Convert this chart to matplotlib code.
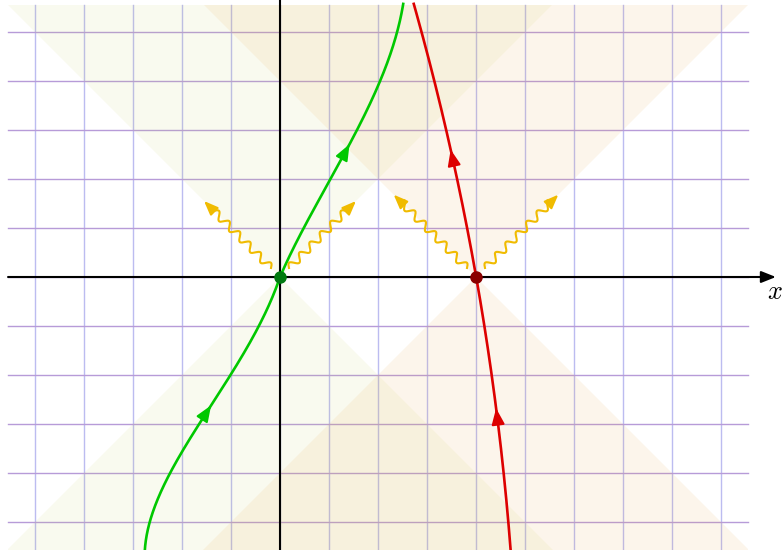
import numpy as np
import matplotlib
matplotlib.use("Agg")
import matplotlib.pyplot as plt
from matplotlib.patches import Polygon, Rectangle

plt.rcParams['mathtext.fontset'] = 'cm'

# ---- data (spacetime units) ----
event_x = [0.0, 4.0]                     # events on the x axis
event_colors = ["#007a10", "#8a0000"]
photon_len = [1.55, 1.68]                # reach of emitted photons (per event)
cone_colors = [(198/255, 210/255, 100/255), (235/255, 165/255, 65/255)]

# green worldline (past half and future half)
green_past_y = [0.0, -0.50, -1.00, -2.10, -2.67, -2.98, -3.49, -4.00, -4.55, -5.02, -5.60]
green_past_x = [0.0, -0.21, -0.45, -1.02, -1.43, -1.67, -1.98, -2.24, -2.49, -2.65, -2.77]
green_fut_y = [0.0, 1.00, 2.00, 2.71, 3.10, 4.02, 5.00, 5.60]
green_fut_x = [0.0, 0.50, 1.00, 1.43, 1.64, 2.04, 2.39, 2.52]
# red worldline
red_y = [-5.60, -5.00, -4.00, -3.02, -2.00, -1.01, 0.0, 0.99, 1.98, 2.80, 3.75, 4.63, 5.60]
red_x = [4.69, 4.66, 4.59, 4.49, 4.29, 4.15, 4.0, 3.81, 3.63, 3.44, 3.23, 2.99, 2.71]
green_arrow_y = [-2.62, 2.71]
red_arrow_y = [-2.68, 2.60]

grid_x = list(range(-5, 10))
grid_y = list(range(-5, 6))
xmin, xmax, ymin, ymax = -5.55, 9.55, -5.60, 5.55

# ---- figure ----
fig = plt.figure(figsize=(7.84, 5.50), dpi=100)
ax = fig.add_axes([0, 0, 1, 1])
ax.set_xlim(-280/49, 504/49)
ax.set_ylim(-273/49, 277/49)
ax.axis('off')

# grid
for gx in grid_x:
    ax.plot([gx, gx], [-6, ymax], color="#bcbcf0", lw=1.0, zorder=1)
for gy in grid_y:
    ax.plot([xmin, xmax], [gy, gy], color="#b79bd8", lw=1.0, zorder=1)

# light cones
clip = Rectangle((xmin, ymin), xmax - xmin, ymax - ymin, transform=ax.transData)
H = 20
for ex, c in zip(event_x, cone_colors):
    for s in (1, -1):
        p = Polygon([(ex, 0), (ex - H, s * H), (ex + H, s * H)], closed=True,
                    facecolor=c, alpha=0.1, edgecolor='none', zorder=2)
        ax.add_patch(p)
        p.set_clip_path(clip)

# axes
ax.plot([0, 0], [-6, 6], color="black", lw=1.5, zorder=3)
ax.annotate('', xy=(10.12, 0), xytext=(xmin, 0),
            arrowprops=dict(arrowstyle='-|>,head_length=0.55,head_width=0.22',
                            mutation_scale=16, color='black', lw=1.5,
                            shrinkA=0, shrinkB=0), zorder=3)
ax.text(10.1, -0.31, r'$x$', fontsize=19, ha='center', va='center', zorder=3)


def smooth_fit(ys, xs, x0=None, y0=0.0, deg=4, n=300):
    """least-squares polynomial x(y) through the read points (for a smooth stroke)"""
    ys = np.asarray(ys, float)
    xs = np.asarray(xs, float)
    yy = np.linspace(ys.min(), ys.max(), n)
    if x0 is not None:
        A = np.column_stack([(ys - y0) ** k for k in range(1, deg + 1)])
        c, *_ = np.linalg.lstsq(A, xs - x0, rcond=None)
        B = np.column_stack([(yy - y0) ** k for k in range(1, deg + 1)])
        return B @ c + x0, yy
    c = np.polyfit(ys, xs, deg)
    return np.polyval(c, yy), yy


def draw_curve(cx, cy, color):
    ax.plot(cx, cy, color=color, lw=1.9, zorder=4, solid_capstyle='butt')


def draw_arrows(cx, cy, arrows_y, color):
    for ay in arrows_y:
        tip = np.interp(ay, cy, cx)
        tail = np.interp(ay - 0.3, cy, cx)
        ax.annotate('', xy=(tip, ay), xytext=(tail, ay - 0.3),
                    arrowprops=dict(arrowstyle='-|>,head_length=0.75,head_width=0.3',
                                    mutation_scale=13, color=color, lw=1.5,
                                    shrinkA=0, shrinkB=0), zorder=4)


gpx, gpy = smooth_fit(green_past_y, green_past_x, x0=0.0, deg=4)
gfx, gfy = smooth_fit(green_fut_y, green_fut_x, x0=0.0, deg=4)
gx_all = np.concatenate([gpx, gfx])
gy_all = np.concatenate([gpy, gfy])
order = np.argsort(gy_all)
gx_all, gy_all = gx_all[order], gy_all[order]
draw_curve(gx_all, gy_all, "#00c800")
draw_arrows(gx_all, gy_all, green_arrow_y, "#00c800")

rx, ry = smooth_fit(red_y, red_x, deg=3)
draw_curve(rx, ry, "#dd0000")
draw_arrows(rx, ry, red_arrow_y, "#dd0000")

# photons (wavy arrows along the light cone)
amp, lam, start, post = 0.075, 0.30, 0.26, 0.24
pcol = "#f0bb00"
for ex, L in zip(event_x, photon_len):
    for d in (-1, 1):
        u = np.array([d, 1.0]) / np.sqrt(2)
        nvec = np.array([-1.0, d]) / np.sqrt(2) * d
        total = L * np.sqrt(2)
        t = np.linspace(start, total - post, 400)
        w = amp * np.sin(2 * np.pi * (t - start) / lam)
        pts = np.array([ex, 0.0]) + np.outer(t, u) + np.outer(w, nvec)
        ax.plot(pts[:, 0], pts[:, 1], color=pcol, lw=1.5, zorder=5)
        base = np.array([ex, 0.0]) + (total - post) * u
        tipp = np.array([ex, 0.0]) + total * u
        ax.annotate('', xy=tipp, xytext=base,
                    arrowprops=dict(arrowstyle='-|>,head_length=0.7,head_width=0.28',
                                    mutation_scale=12, color=pcol, lw=1.5,
                                    shrinkA=0, shrinkB=0), zorder=5)

# events
for ex, c in zip(event_x, event_colors):
    ax.plot([ex], [0], 'o', color=c, markersize=8, zorder=6)

fig.savefig("out.png", dpi=100)
